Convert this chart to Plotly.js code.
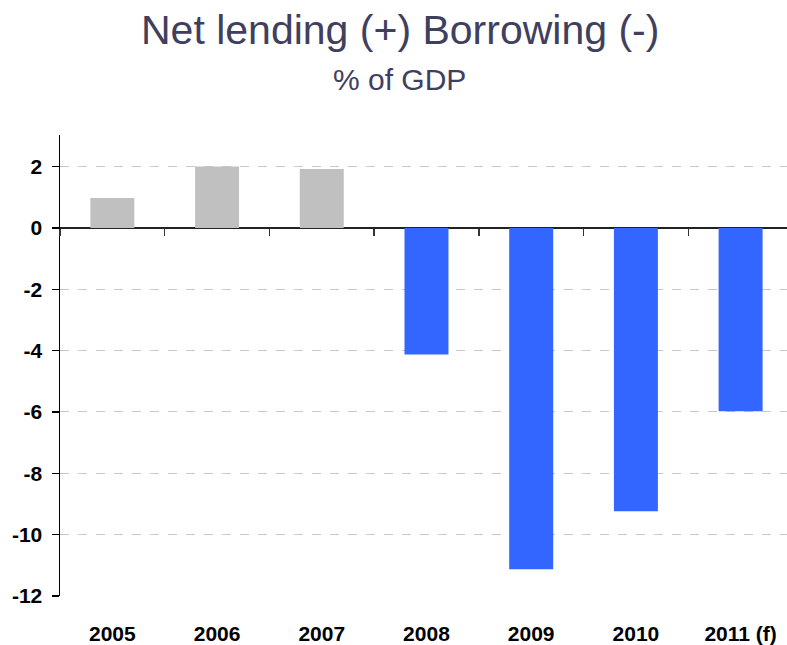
<!DOCTYPE html>
<html>
<head>
<meta charset="utf-8">
<script src="https://cdn.plot.ly/plotly-3.0.1.min.js"></script>
<style>html,body{margin:0;padding:0;background:#fff;}#chart{width:787px;height:645px;}</style>
</head>
<body>
<div id="chart"></div>
<script>
var years = ["2005", "2006", "2007", "2008", "2009", "2010", "2011 (f)"];
var netLending = [0.98, 2.0, 1.92, -4.13, -11.13, -9.24, -5.98];
var yTicks = [2, 0, -2, -4, -6, -8, -10, -12];
var titleText = "Net lending (+) Borrowing (-)";
var subtitleText = "% of GDP";

var colors = netLending.map(function (v) { return v >= 0 ? "#c0c0c0" : "#3366ff"; });

var data = [
  {
    type: "bar",
    x: years,
    y: netLending,
    marker: { color: colors, line: { width: 0 } },
    hoverinfo: "x+y",
    showlegend: false
  },
  {
    type: "bar",
    x: years,
    y: years.map(function () { return null; }),
    xaxis: "x2",
    yaxis: "y",
    showlegend: false,
    hoverinfo: "skip"
  }
];

var fam = "Liberation Sans, Arial, sans-serif";

var layout = {
  width: 787,
  height: 645,
  paper_bgcolor: "#ffffff",
  plot_bgcolor: "#ffffff",
  margin: { l: 60, r: 0, t: 135, b: 49 },
  bargap: 0.58,
  font: { family: fam, color: "#000000" },
  annotations: [
    {
      text: titleText,
      xref: "paper", yref: "paper",
      x: 0.468, y: 1.0, xanchor: "center", yanchor: "middle",
      yshift: 105,
      showarrow: false,
      font: { size: 41, color: "#40405e", family: fam }
    },
    {
      text: subtitleText,
      xref: "paper", yref: "paper",
      x: 0.467, y: 1.0, xanchor: "center", yanchor: "middle",
      yshift: 56,
      showarrow: false,
      font: { size: 30, color: "#40405e", family: fam }
    }
  ],
  xaxis: {
    type: "category",
    range: [-0.5, 6.443],
    showline: false,
    showgrid: false,
    zeroline: false,
    ticks: "",
    ticklabelstandoff: 23,
    tickfont: { size: 21, family: fam, color: "#000000", weight: "bold" }
  },
  xaxis2: {
    type: "category",
    overlaying: "x",
    matches: "x",
    anchor: "free",
    position: 0.7983,
    side: "bottom",
    showline: false,
    showgrid: false,
    zeroline: false,
    showticklabels: false,
    ticks: "outside",
    tickson: "boundaries",
    ticklen: 7,
    tickwidth: 1.5,
    tickcolor: "#333333"
  },
  yaxis: {
    range: [-12, 3.03],
    tickvals: yTicks,
    ticktext: yTicks.map(String),
    showline: true,
    linecolor: "#000000",
    linewidth: 1.5,
    ticks: "outside",
    ticklen: 7,
    tickwidth: 1.5,
    tickcolor: "#000000",
    ticklabelstandoff: 5,
    showgrid: true,
    gridcolor: "#c8c8c8",
    griddash: "dash",
    gridwidth: 1,
    zeroline: true,
    zerolinecolor: "#222222",
    zerolinewidth: 1.5,
    tickfont: { size: 21, family: fam, color: "#000000", weight: "bold" }
  }
};

Plotly.newPlot("chart", data, layout, { displayModeBar: false, staticPlot: true });
</script>
</body>
</html>
